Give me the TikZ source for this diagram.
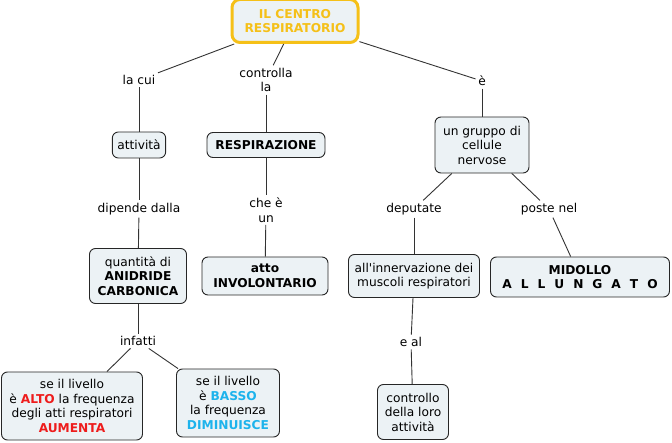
\documentclass[tikz,border=0pt]{standalone}
\usepackage{fontspec}
\setmainfont{DejaVu Sans}
\usetikzlibrary{positioning,calc}
\definecolor{cboxfill}{HTML}{ECF2F5}
\definecolor{ctitle}{HTML}{F5C018}
\definecolor{calto}{HTML}{EE1C1C}
\definecolor{cbasso}{HTML}{1DB3EC}

\begin{document}
\begin{tikzpicture}[x=1pt,y=-1pt,
    concept/.style={draw=black!85, line width=0.9pt, rounded corners=6pt, fill=cboxfill,
        align=center, inner xsep=5pt, inner ysep=4pt, font=\fontsize{12.2}{14.5}\selectfont},
    title/.style={concept, draw=ctitle, line width=3pt, rounded corners=8pt, text=ctitle,
        font=\fontsize{12.2}{14.5}\selectfont\bfseries},
    linklabel/.style={align=center, inner sep=2.5pt, font=\fontsize{12.2}{14.5}\selectfont},
    link/.style={draw=black!80, line width=0.9pt}]
    \useasboundingbox (0,0) rectangle (672,443);
    \def\sp{\hspace{9pt}}
    % concepts
    \node[title, minimum width=126pt, minimum height=43pt] (centro) at (295,21) {IL CENTRO\\RESPIRATORIO};
    \node[concept, minimum height=26pt] (attivita) at (139,145) {attività};
    \node[concept, minimum width=118pt, minimum height=25pt, font=\fontsize{12.2}{14.5}\selectfont\bfseries] (respirazione) at (266,145) {RESPIRAZIONE};
    \node[concept, minimum width=94pt, minimum height=56pt] (gruppo) at (482,145) {un gruppo di\\cellule\\nervose};
    \node[concept, minimum width=97pt, minimum height=55pt] (quantita) at (138,276) {quantità di\\\textbf{ANIDRIDE}\\\textbf{CARBONICA}};
    \node[concept, minimum width=126pt, minimum height=38pt, font=\fontsize{12.2}{14.5}\selectfont\bfseries] (atto) at (265,276) {atto\\INVOLONTARIO};
    \node[concept, minimum width=131pt, minimum height=43pt] (innervazione) at (414,276) {all\textquotesingle innervazione dei\\muscoli respiratori};
    \node[concept, minimum width=179pt, minimum height=40pt, font=\fontsize{12.2}{14.5}\selectfont\bfseries] (midollo) at (580,277) {MIDOLLO\\A\sp L\sp L\sp U\sp N\sp G\sp A\sp T\sp O};
    \node[concept, minimum width=141pt, minimum height=68pt] (alto) at (72,406) {se il livello\\è \textbf{\textcolor{calto}{ALTO}} la frequenza\\degli atti respiratori\\\textbf{\textcolor{calto}{AUMENTA}}};
    \node[concept, minimum width=103pt, minimum height=68pt] (basso) at (228,403) {se il livello\\è \textbf{\textcolor{cbasso}{BASSO}}\\la frequenza\\\textbf{\textcolor{cbasso}{DIMINUISCE}}};
    \node[concept, minimum width=71pt, minimum height=55pt] (controllo) at (413,412) {controllo\\della loro\\attività};
    % link labels
    \node[linklabel] (lacui) at (139,80) {la cui};
    \node[linklabel] (controlla) at (266,80) {controlla\\la};
    \node[linklabel] (e) at (482,81) {è};
    \node[linklabel] (dipende) at (139,209) {dipende dalla};
    \node[linklabel] (cheun) at (266,210) {che è\\un};
    \node[linklabel] (deputate) at (414,209) {deputate};
    \node[linklabel] (poste) at (549,209) {poste nel};
    \node[linklabel] (infatti) at (138,341) {infatti};
    \node[linklabel] (eal) at (411,342) {e al};
    % connectors
    \foreach \from/\to in {centro/lacui, lacui/attivita, attivita/dipende, dipende/quantita,
        quantita/infatti, infatti/alto, infatti/basso,
        centro/controlla, controlla/respirazione, respirazione/cheun, cheun/atto,
        centro/e, e/gruppo, gruppo/deputate, deputate/innervazione, innervazione/eal, eal/controllo,
        gruppo/poste, poste/midollo}
    {
        \draw[link] (\from) -- (\to);
    }
\end{tikzpicture}
\end{document}
